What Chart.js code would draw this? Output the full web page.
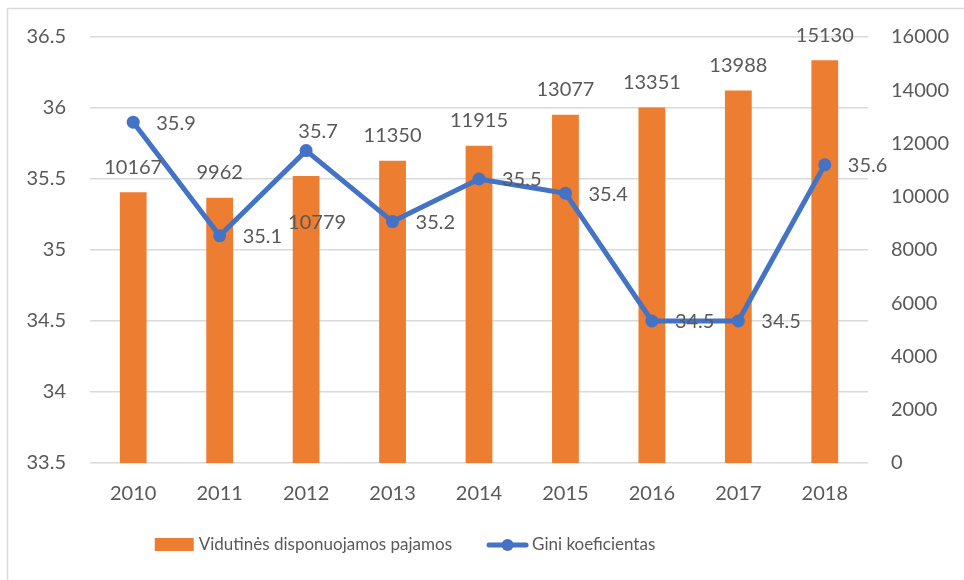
<!DOCTYPE html>
<html>
<head>
<meta charset="utf-8">
<script src="https://cdn.jsdelivr.net/npm/chart.js@4.4.1/dist/chart.umd.min.js"></script>
<style>
  body{margin:0;background:#fff;}
  #wrap{width:964px;height:580px;position:relative;}
</style>
</head>
<body>
<div id="wrap"><canvas id="grafica"></canvas></div>
<script>
const METAI = ["2010","2011","2012","2013","2014","2015","2016","2017","2018"];
const PAJAMOS = [10167, 9962, 10779, 11350, 11915, 13077, 13351, 13988, 15130];
const GINI = [35.9, 35.1, 35.7, 35.2, 35.5, 35.4, 34.5, 34.5, 35.6];
const PAVADINIMAI = ["Vidutinės disponuojamos pajamos", "Gini koeficientas"];

const ORANZINE = "#ED7D31";
const MELYNA = "#4472C4";
const TEKSTAS = "#595959";
const SRIFTAS = "Lato";
const DYDIS = 20;
const LEG_DYDIS = 17;

// data labels, drawn by hand (no datalabels plugin here)
const etiketes = {
    id: "etiketes",
    afterDatasetsDraw(chart){
        const ctx = chart.ctx;
        ctx.save();
        ctx.font = DYDIS + "px " + SRIFTAS;
        ctx.fillStyle = TEKSTAS;
        ctx.textBaseline = "middle";
        chart.getDatasetMeta(0).data.forEach((bar, i) => {
            ctx.textAlign = "center";
            if (i === 2) ctx.fillText(String(PAJAMOS[i]), bar.x + 11, bar.y + 47);
            else ctx.fillText(String(PAJAMOS[i]), bar.x, bar.y - 25);
        });
        chart.getDatasetMeta(1).data.forEach((pt, i) => {
            if (i === 2) {
                ctx.textAlign = "center";
                ctx.fillText(String(GINI[i]), pt.x + 12, pt.y - 19);
            } else {
                ctx.textAlign = "left";
                ctx.fillText(String(GINI[i]), pt.x + 23, pt.y + 1);
            }
        });
        ctx.restore();
    },
    afterDraw(chart){
        const ctx = chart.ctx;
        ctx.save();
        // frame (only top and left edge visible)
        ctx.strokeStyle = "#d9d9d9";
        ctx.lineWidth = 1.5;
        ctx.beginPath();
        ctx.moveTo(7.5, 590);
        ctx.lineTo(7.5, 8.5);
        ctx.lineTo(980, 8.5);
        ctx.stroke();

        // legend (sits left of centre, like the original)
        const y = 545;
        ctx.font = LEG_DYDIS + "px " + SRIFTAS;
        ctx.textBaseline = "middle";
        ctx.textAlign = "left";
        const w1 = ctx.measureText(PAVADINIMAI[0]).width;
        const w2 = ctx.measureText(PAVADINIMAI[1]).width;
        const total = 39 + 5 + w1 + 35 + 41 + 4 + w2;
        let x = 405 - total / 2;
        ctx.fillStyle = ORANZINE;
        ctx.fillRect(x, y - 7, 39, 13);
        x += 44;
        ctx.fillStyle = TEKSTAS;
        ctx.fillText(PAVADINIMAI[0], x, y);
        x += w1 + 35;
        ctx.strokeStyle = MELYNA;
        ctx.lineWidth = 5;
        ctx.lineCap = "round";
        ctx.beginPath();
        ctx.moveTo(x + 2, y);
        ctx.lineTo(x + 39, y);
        ctx.stroke();
        ctx.fillStyle = MELYNA;
        ctx.beginPath();
        ctx.arc(x + 20.5, y, 6, 0, Math.PI * 2);
        ctx.fill();
        x += 45;
        ctx.fillStyle = TEKSTAS;
        ctx.fillText(PAVADINIMAI[1], x, y);
        ctx.restore();
    }
};

window.onload = () => {
    Chart.defaults.font.family = SRIFTAS;
    Chart.defaults.font.size = DYDIS;
    Chart.defaults.color = TEKSTAS;

    const ctx = document.getElementById("grafica").getContext("2d");
    new Chart(ctx, {
        data: {
            labels: METAI,
            datasets: [{
                type: "bar",
                label: PAVADINIMAI[0],
                data: PAJAMOS,
                backgroundColor: ORANZINE,
                yAxisID: "y1",
                categoryPercentage: 1,
                barPercentage: 0.31,
                order: 2
            }, {
                type: "line",
                label: PAVADINIMAI[1],
                data: GINI,
                borderColor: MELYNA,
                backgroundColor: MELYNA,
                borderWidth: 5,
                pointRadius: 6.5,
                pointHoverRadius: 6.5,
                pointBorderWidth: 0,
                yAxisID: "y",
                order: 1
            }]
        },
        options: {
            responsive: true,
            maintainAspectRatio: false,
            animation: false,
            layout: { padding: { top: 37, bottom: 55, left: 0, right: 0 } },
            scales: {
                x: {
                    grid: { display: false, drawTicks: false },
                    border: { display: false },
                    ticks: { padding: 19 }
                },
                y: {
                    position: "left",
                    min: 33.5,
                    max: 36.5,
                    ticks: { stepSize: 0.5, padding: 24, callback: v => String(v) },
                    grid: { color: "#d9d9d9", lineWidth: 1.5, drawTicks: false },
                    border: { display: false },
                    afterFit: s => { s.width = 90; }
                },
                y1: {
                    position: "right",
                    min: 0,
                    max: 16000,
                    ticks: { stepSize: 2000, padding: 23, callback: v => String(v) },
                    grid: { display: false, drawTicks: false },
                    border: { display: false },
                    afterFit: s => { s.width = 96; }
                }
            },
            plugins: {
                legend: { display: false },
                tooltip: { enabled: false }
            }
        },
        plugins: [etiketes]
    });
};
</script>
</body>
</html>
